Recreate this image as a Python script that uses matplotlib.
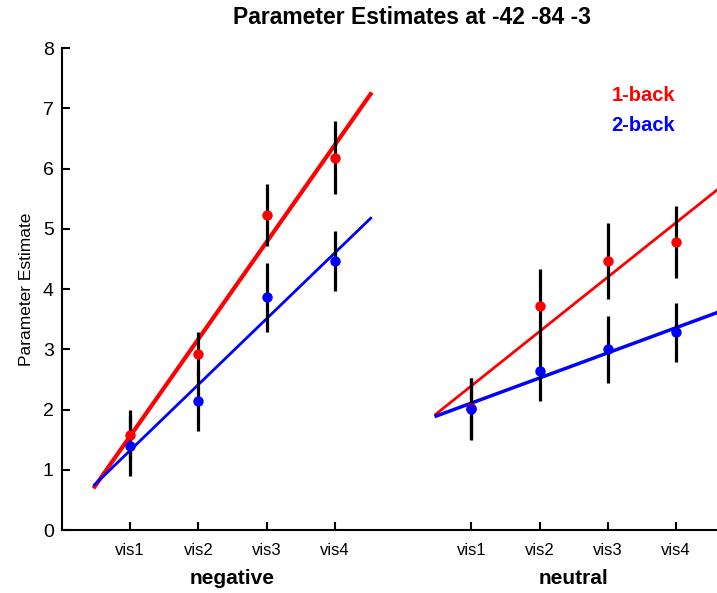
import numpy as np
import matplotlib
matplotlib.use('Agg')
import matplotlib.pyplot as plt
import matplotlib.transforms as mtransforms

plt.rcParams['font.family'] = ['Liberation Sans', 'DejaVu Sans']

# data
conditions = ['vis1', 'vis2', 'vis3', 'vis4']
groups = ['negative', 'neutral']
group_x = [np.array([1, 2, 3, 4]), np.array([6, 7, 8, 9])]

# 1-back (red) and 2-back (blue) means and error bar half-widths
oneback_mean = [[1.58, 2.92, 5.23, 6.18], [2.02, 3.72, 4.47, 4.78]]
oneback_err = [[0.42, 0.37, 0.52, 0.61], [0.50, 0.61, 0.63, 0.60]]
twoback_mean = [[1.39, 2.14, 3.86, 4.46], [2.01, 2.64, 3.00, 3.28]]
twoback_err = [[0.50, 0.50, 0.57, 0.50], [0.51, 0.50, 0.56, 0.49]]

fig = plt.figure(figsize=(7.17, 5.93), dpi=100)
ax = fig.add_axes([0.0865, 0.1062, 0.9135, 0.8128])

red = '#ff0000'
blue = '#0000ff'
line_w = {('neg', 'r'): 3.0, ('neg', 'b'): 2.0, ('neu', 'r'): 2.0, ('neu', 'b'): 2.5}

for gi, xs in enumerate(group_x):
    key = 'neg' if gi == 0 else 'neu'
    xfit = np.array([xs[0] - 0.54, xs[-1] + 0.54 + 0.08 * gi])
    # least squares fit lines
    for means, col, c in [(oneback_mean[gi], red, 'r'), (twoback_mean[gi], blue, 'b')]:
        p = np.polyfit(xs, means, 1)
        ax.plot(xfit, np.polyval(p, xfit), color=col, lw=line_w[(key, c)], zorder=2,
                solid_capstyle='butt')
    # error bars
    ax.errorbar(xs, oneback_mean[gi], yerr=oneback_err[gi], fmt='none', ecolor='black',
                elinewidth=2.3, capsize=0, zorder=3)
    ax.errorbar(xs, twoback_mean[gi], yerr=twoback_err[gi], fmt='none', ecolor='black',
                elinewidth=2.3, capsize=0, zorder=3)
    ax.plot(xs, oneback_mean[gi], 'o', color=red, ms=7.5, mec='none', zorder=4)
    ax.plot(xs, twoback_mean[gi], 'o', color=blue, ms=7.5, mec='none', zorder=4)

ax.set_xlim(0, 9.6)
ax.set_ylim(0, 8)
ax.set_xticks(np.concatenate(group_x))
ax.set_xticklabels(conditions * 2, fontsize=12)
ax.set_yticks(range(0, 9))
ax.tick_params(axis='y', labelsize=14, direction='in', length=6, width=1.5, pad=6)
ax.tick_params(axis='x', direction='in', length=6, width=1.5, pad=9)
for s in ['top', 'right']:
    ax.spines[s].set_visible(False)
for s in ['left', 'bottom']:
    ax.spines[s].set_linewidth(1.5)

ax.set_ylabel('Parameter Estimate', fontsize=12.5, labelpad=6)

trans = mtransforms.blended_transform_factory(ax.transData, fig.transFigure)
for gi, name in enumerate(groups):
    ax.text(group_x[gi].mean(), 1 - 578 / 593, name, transform=trans, ha='center',
            va='center', fontsize=15, fontweight='bold')

ax.text(8.52, 7.22, '1-back', color=red, fontsize=14.5, fontweight='bold', ha='center', va='center')
ax.text(8.52, 6.72, '2-back', color=blue, fontsize=14.5, fontweight='bold', ha='center', va='center')

fig.text(412 / 717, 1 - 18 / 593, 'Parameter Estimates at -42 -84 -3', ha='center', va='center',
         fontsize=16.5, fontweight='bold')

fig.savefig('out.png', dpi=100)
